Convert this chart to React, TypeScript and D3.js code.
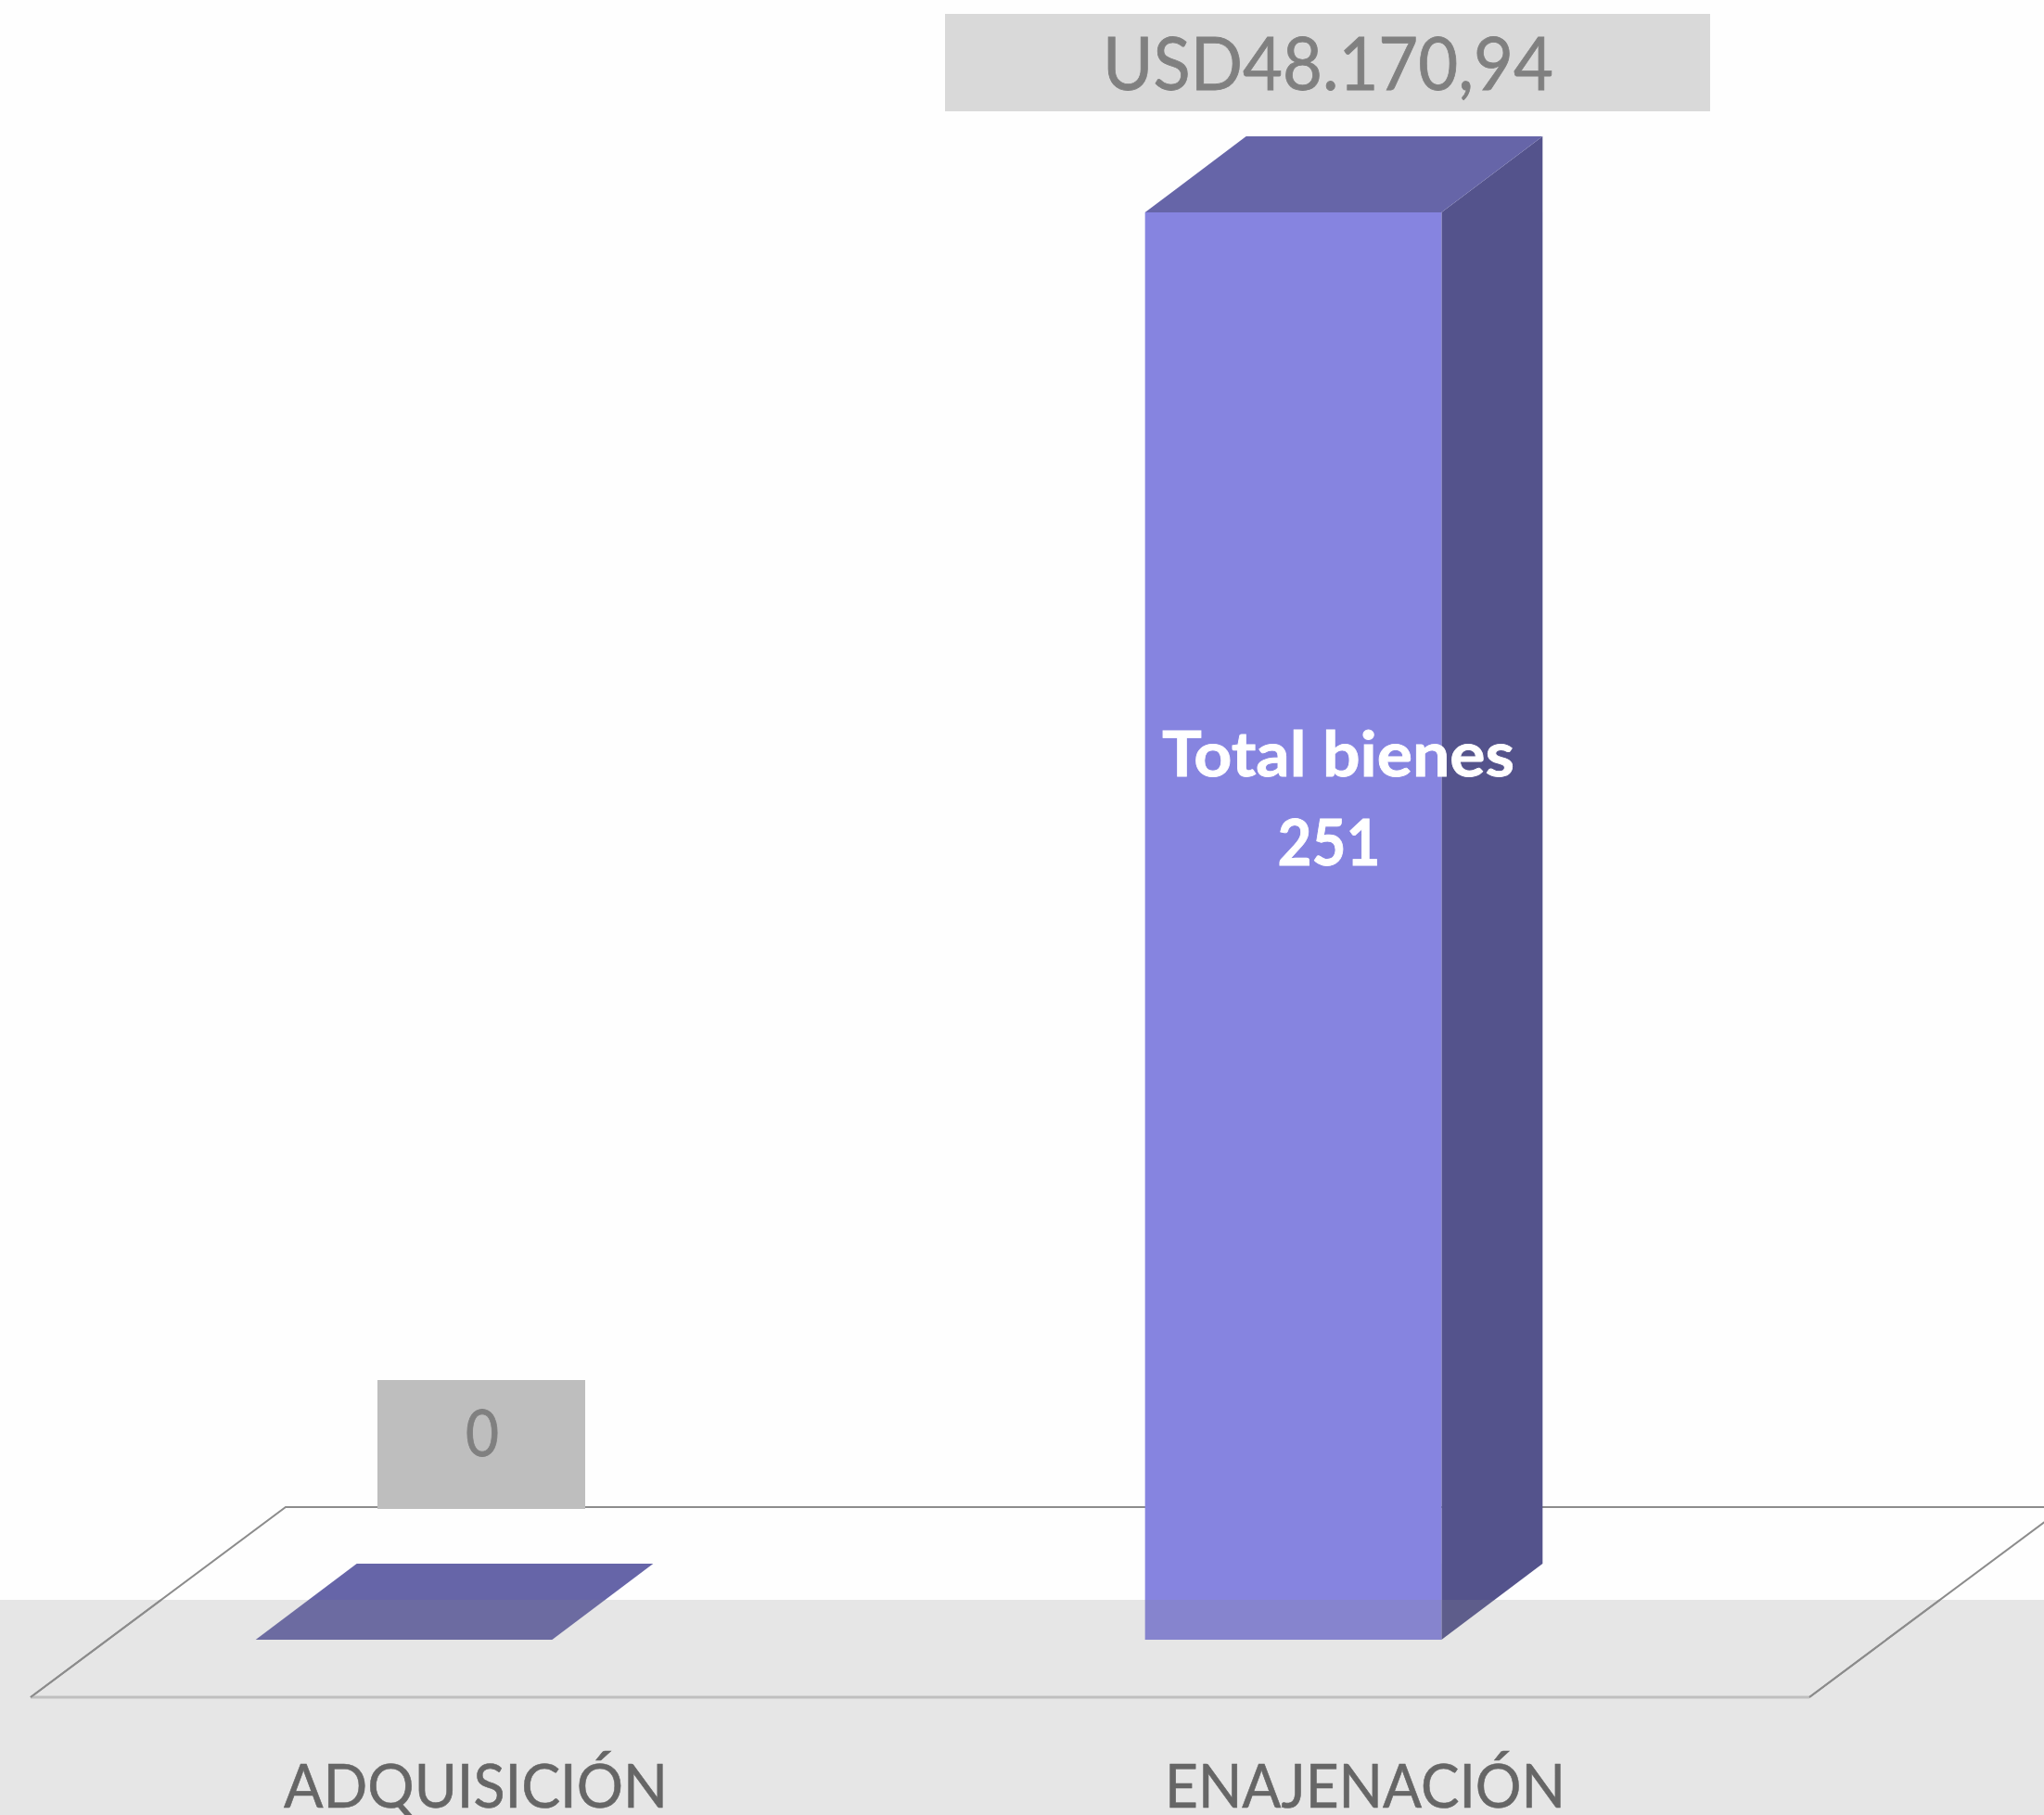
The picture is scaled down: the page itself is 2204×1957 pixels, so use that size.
import React from 'react';
import * as d3 from 'd3';

// data
const categories = ['ADQUISICIÓN', 'ENAJENACIÓN'];
const bienes = [0, 251];
const dataLabels = ['0', 'USD48.170,94'];
const innerLines = ['Total bienes', '251'];

const WIDTH = 2204;
const HEIGHT = 1957;
const FONT = 'Lato, Carlito, Calibri, sans-serif';

// 3D projection of the bars and the floor
const barDepth = { dx: 109, dy: -82 };
const floorDepth = { dx: 275, dy: -205 };
const floorFront = { x0: 33, x1: 1951, y: 1830 };
const bandTop = 1725;

const xScale = d3.scaleBand<string>()
    .domain(categories)
    .range([-44, 1874])
    .paddingInner(2 / 3)
    .paddingOuter(1 / 3);

const yScale = d3.scaleLinear().domain([0, 251]).range([1768, 229]);

const poly = d3.line();

function App() {
    const bw = xScale.bandwidth();

    // label boxes and text, same order as categories
    const boxes = [
        { x: 407, y: 1488, w: 224, h: 139, fill: '#bebebe', tx: 520, ty: 1570, size: 70, len: 36 },
        { x: 1019, y: 15, w: 825, h: 105, fill: '#d9d9d9', tx: 1432, ty: 97, size: 80, len: 486 },
    ];
    const catPos = [
        { tx: 513, len: 414 },
        { tx: 1472, len: 432 },
    ];

    const floorBack = {
        x0: floorFront.x0 + floorDepth.dx,
        x1: floorFront.x1 + floorDepth.dx,
        y: floorFront.y + floorDepth.dy,
    };

    return (
        <svg width={WIDTH} height={HEIGHT} viewBox={`0 0 ${WIDTH} ${HEIGHT}`}
             style={{ position: 'absolute', left: 0, top: 0, display: 'block', background: '#fefefe' }}>

            {/* floor */}
            <path fill="none" stroke="#8c8c8c" strokeWidth={2}
                  d={poly([
                      [floorFront.x0, floorFront.y],
                      [floorBack.x0, floorBack.y],
                      [floorBack.x1, floorBack.y],
                      [floorFront.x1, floorFront.y],
                  ]) as string} />

            {/* bars */}
            {categories.map((c, i) => {
                const x = xScale(c) as number;
                const yTop = yScale(bienes[i]);
                const yBase = yScale(0);
                const { dx, dy } = barDepth;
                return (
                    <g key={c}>
                        {bienes[i] > 0 && (
                            <path fill="#54538c" d={poly([
                                [x + bw, yTop], [x + bw + dx, yTop + dy],
                                [x + bw + dx, yBase + dy], [x + bw, yBase],
                            ]) as string} />
                        )}
                        <path fill="#6665a8" d={poly([
                            [x, yTop], [x + dx, yTop + dy],
                            [x + bw + dx, yTop + dy], [x + bw, yTop],
                        ]) as string} />
                        {bienes[i] > 0 && (
                            <rect x={x} y={yTop} width={bw} height={yBase - yTop} fill="#8684e0" />
                        )}
                    </g>
                );
            })}

            {/* grey band laid over the lower part */}
            <rect x={0} y={bandTop} width={WIDTH} height={HEIGHT - bandTop} fill="rgb(135,135,135)" fillOpacity={0.2} />

            <line x1={floorFront.x0} x2={floorFront.x1} y1={floorFront.y} y2={floorFront.y}
                  stroke="#bfbfbf" strokeWidth={3} />
            <line x1={floorFront.x0} y1={floorFront.y} x2={floorFront.x0 + floorDepth.dx * (floorFront.y - bandTop) / -floorDepth.dy} y2={bandTop}
                  stroke="#8c8c8c" strokeWidth={2} />
            <line x1={floorFront.x1} y1={floorFront.y} x2={floorFront.x1 + floorDepth.dx * (floorFront.y - bandTop) / -floorDepth.dy} y2={bandTop}
                  stroke="#8c8c8c" strokeWidth={2} />

            {/* data labels */}
            {dataLabels.map((t, i) => {
                const b = boxes[i];
                return (
                    <g key={t}>
                        <rect x={b.x} y={b.y} width={b.w} height={b.h} fill={b.fill} />
                        <text x={b.tx} y={b.ty} textAnchor="middle" fill="#808080" stroke="#808080" strokeWidth={0.8}
                              fontFamily={FONT} fontSize={b.size} textLength={b.len} lengthAdjust="spacingAndGlyphs">{t}</text>
                    </g>
                );
            })}

            {/* text inside the tall bar */}
            <text x={1443} y={837} textAnchor="middle" fill="#ffffff" stroke="#ffffff" strokeWidth={0.8} fontFamily={FONT} fontWeight={700}
                  fontSize={66} textLength={380} lengthAdjust="spacingAndGlyphs">{innerLines[0]}</text>
            <text x={1433} y={933} textAnchor="middle" fill="#ffffff" stroke="#ffffff" strokeWidth={0.8} fontFamily={FONT} fontWeight={700}
                  fontSize={69} textLength={111} lengthAdjust="spacingAndGlyphs">{innerLines[1]}</text>

            {/* category labels */}
            {categories.map((c, i) => (
                <text key={c} x={catPos[i].tx} y={1949} textAnchor="middle" fill="#666666" stroke="#666666" strokeWidth={0.6}
                      fontFamily={FONT} fontSize={66} textLength={catPos[i].len} lengthAdjust="spacingAndGlyphs">{c}</text>
            ))}
        </svg>
    );
}

export default App;
